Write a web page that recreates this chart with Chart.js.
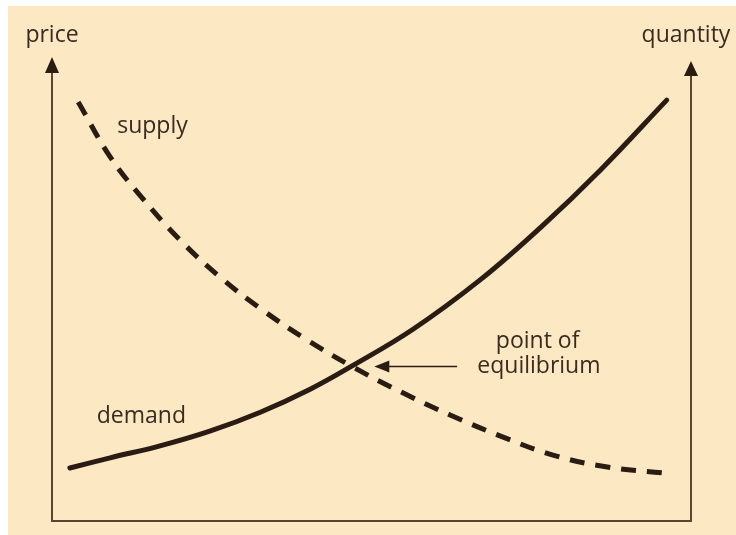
<!DOCTYPE html>
<html>
<head>
<meta charset="utf-8">
<script src="https://cdn.jsdelivr.net/npm/chart.js@4/dist/chart.umd.min.js"></script>
<style>
  html, body { margin: 0; padding: 0; background: #ffffff; }
  #wrap { width: 736px; height: 535px; }
</style>
</head>
<body>
<div id="wrap"><canvas id="chart"></canvas></div>
<script>
// values (0-100 on both axes)
const supplyX = [4.1, 9.1, 14.1, 20.0, 26.3, 32.9, 39.9, 47.1, 54.9, 62.3, 70.6, 78.4, 86.9, 95.9];
const supplyY = [90.9, 79.0, 70.1, 61.0, 52.9, 45.8, 39.3, 33.4, 27.8, 23.0, 18.2, 14.3, 11.7, 10.4];
const demandX = [2.8, 9.1, 16.9, 24.7, 32.6, 40.4, 46.9, 56.5, 67.0, 76.4, 85.8, 96.2];
const demandY = [11.5, 13.7, 16.3, 19.5, 23.6, 28.6, 33.6, 41.6, 52.3, 63.6, 76.1, 91.3];
const equilibrium = { x: 47.0, y: 33.5 };

const ink = '#2a1c13';
const axisColor = '#5a4535';
const textColor = '#3a2a1f';
const font = '23px "Open Sans", sans-serif';

function toPoints(xs, ys) {
    return xs.map((x, i) => ({ x: x, y: ys[i] }));
}

function arrowHead(ctx, x, y, dir, len, half) {
    // dir: 'up' or 'left'
    ctx.beginPath();
    if (dir === 'up') {
        ctx.moveTo(x, y);
        ctx.lineTo(x - half, y + len);
        ctx.lineTo(x + half, y + len);
    } else {
        ctx.moveTo(x, y);
        ctx.lineTo(x + len, y - half);
        ctx.lineTo(x + len, y + half);
    }
    ctx.closePath();
    ctx.fill();
}

const decorPlugin = {
    id: 'decor',
    beforeDraw(chart) {
        const ctx = chart.ctx;
        ctx.save();
        ctx.fillStyle = '#fde8c4';
        ctx.fillRect(8, 6, chart.width - 8, chart.height - 6);
        ctx.restore();
    },
    beforeDatasetsDraw(chart) {
        const { ctx, chartArea } = chart;
        const { left, right, top, bottom } = chartArea;
        ctx.save();
        ctx.strokeStyle = axisColor;
        ctx.fillStyle = axisColor;
        ctx.lineWidth = 2;
        ctx.beginPath();
        ctx.moveTo(left, top + 10);
        ctx.lineTo(left, bottom);
        ctx.lineTo(right, bottom);
        ctx.lineTo(right, top + 10);
        ctx.stroke();
        ctx.fillStyle = ink;
        arrowHead(ctx, left, top - 3, 'up', 16, 7);
        arrowHead(ctx, right, top + 1, 'up', 15, 7);

        ctx.fillStyle = textColor;
        ctx.font = font;
        ctx.textAlign = 'center';
        ctx.textBaseline = 'alphabetic';
        ctx.fillText('price', left, 42);
        ctx.fillText('quantity', right - 5, 42);
        ctx.restore();
    },
    afterDatasetsDraw(chart) {
        const { ctx, scales } = chart;
        const px = v => scales.x.getPixelForValue(v);
        const py = v => scales.y.getPixelForValue(v);
        ctx.save();
        ctx.fillStyle = textColor;
        ctx.font = font;
        ctx.textBaseline = 'alphabetic';
        ctx.textAlign = 'left';
        ctx.fillText('supply', px(10.2), py(84.2));
        ctx.fillText('demand', px(7.0), py(21.3));
        ctx.textAlign = 'center';
        ctx.fillText('point of', px(76.0), py(37.5));
        ctx.fillText('equilibrium', px(76.2), py(32.1));

        // arrow pointing at the crossing
        const ex = px(equilibrium.x) + 22;
        const ey = py(equilibrium.y);
        ctx.strokeStyle = ink;
        ctx.fillStyle = ink;
        ctx.lineWidth = 1.5;
        ctx.beginPath();
        ctx.moveTo(ex + 12, ey);
        ctx.lineTo(px(63.4), ey);
        ctx.stroke();
        arrowHead(ctx, ex, ey, 'left', 15, 6);
        ctx.restore();
    }
};

new Chart(document.getElementById('chart'), {
    type: 'scatter',
    data: {
        datasets: [
            {
                label: 'supply',
                data: toPoints(supplyX, supplyY),
                showLine: true,
                borderColor: ink,
                borderWidth: 5,
                borderDash: [15, 11],
                borderCapStyle: 'butt',
                tension: 0.4,
                pointRadius: 0,
                fill: false
            },
            {
                label: 'demand',
                data: toPoints(demandX, demandY),
                showLine: true,
                borderColor: ink,
                borderWidth: 5,
                borderCapStyle: 'round',
                tension: 0.4,
                pointRadius: 0,
                fill: false
            }
        ]
    },
    options: {
        responsive: true,
        maintainAspectRatio: false,
        animation: false,
        layout: { padding: { left: 52, right: 45, top: 60, bottom: 14 } },
        plugins: {
            legend: { display: false },
            tooltip: { enabled: false }
        },
        scales: {
            x: { type: 'linear', min: 0, max: 100, display: false },
            y: { type: 'linear', min: 0, max: 100, display: false }
        }
    },
    plugins: [decorPlugin]
});
</script>
</body>
</html>
